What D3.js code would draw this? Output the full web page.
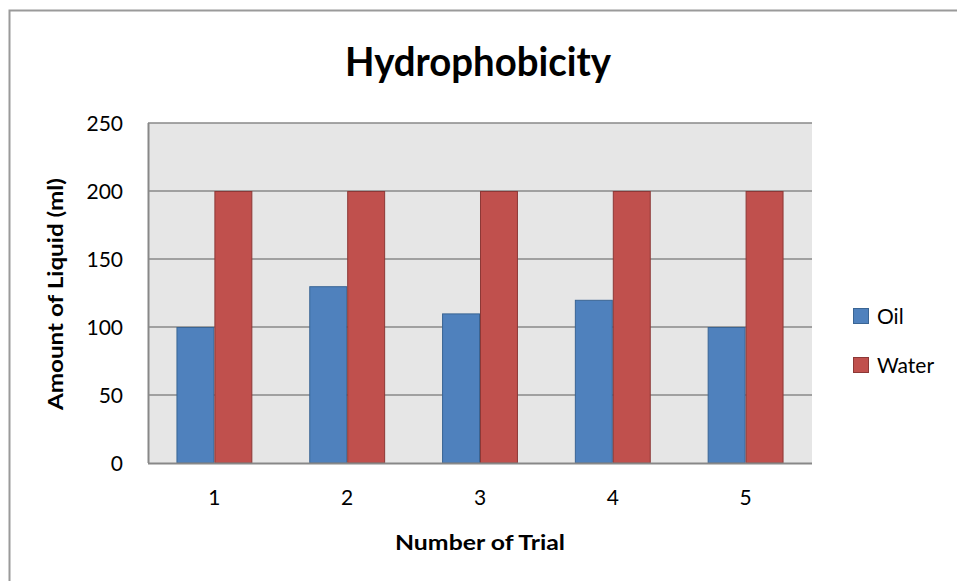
<!DOCTYPE html>
<html><head><meta charset="utf-8">
<script src="https://cdn.jsdelivr.net/npm/d3@7"></script>
<style>body{margin:0;background:#fff}svg{display:block}</style>
</head><body>
<svg id="c" width="957" height="581"></svg>
<script>
const categories = ["1","2","3","4","5"];
const oilValues = [100,130,110,120,100];
const waterValues = [200,200,200,200,200];
const seriesNames = ["Oil","Water"];
const yTicks = [0,50,100,150,200,250];

const colors = {Oil:"#4f81bd", Water:"#c0504d"};
const strokes = {Oil:"#3a6594", Water:"#8c3836"};
const font = "Lato, 'Open Sans', sans-serif";

const svg = d3.select("#c");
svg.append("path").attr("d","M9.5,581 V10.5 H957").attr("fill","none").attr("stroke","#9a9a9a").attr("stroke-width",2);

const m = {l:148, r:812, t:123, b:463};
const x0 = d3.scaleBand().domain(categories).range([m.l,m.r]).paddingInner(0).paddingOuter(0);
const y = d3.scaleLinear().domain([0,250]).range([m.b,m.t]);
const bw = x0.bandwidth()/3.5;
const x1 = d3.scaleBand().domain(seriesNames).range([0,bw*2]);

svg.append("rect").attr("x",m.l).attr("y",m.t).attr("width",m.r-m.l).attr("height",m.b-m.t).attr("fill","#e6e6e6");

svg.append("g").selectAll("line").data(yTicks.filter(d=>d>0)).join("line")
  .attr("x1",m.l).attr("x2",m.r).attr("y1",d=>y(d)).attr("y2",d=>y(d))
  .attr("stroke","#888").attr("stroke-width",1.5);

const data = categories.map((c,i)=>({c, vals:[{k:"Oil",v:oilValues[i]},{k:"Water",v:waterValues[i]}]}));
const g = svg.append("g");
g.selectAll("g").data(data).join("g")
  .attr("transform",d=>`translate(${x0(d.c)+x0.bandwidth()/2-bw},0)`)
  .selectAll("rect").data(d=>d.vals).join("rect")
  .attr("x",d=>x1(d.k)+0.5).attr("width",x1.bandwidth()-1)
  .attr("y",d=>y(d.v)+0.5).attr("height",d=>y(0)-y(d.v)-0.5)
  .attr("fill",d=>colors[d.k]).attr("stroke",d=>strokes[d.k]).attr("stroke-width",1);

const ya = d3.axisLeft(y).tickValues(yTicks).tickSize(0).tickPadding(0);
const yg = svg.append("g").attr("transform",`translate(${m.l},0)`).call(ya);
yg.select(".domain").attr("stroke","#888").attr("stroke-width",2).attr("d",`M0.5,${m.t}V${m.b}`);
yg.selectAll("text").attr("x",-25).attr("dy","0.36em").attr("text-anchor","end").attr("font-family",font).attr("font-size",21).attr("fill","#000");

const xa = d3.axisBottom(x0).tickSize(0).tickPadding(0);
const xg = svg.append("g").attr("transform",`translate(0,${m.b})`).call(xa);
xg.select(".domain").attr("stroke","#888").attr("stroke-width",2).attr("d",`M${m.l},0.5H${m.r}`);
xg.selectAll("text").attr("y",42).attr("dy",0).attr("font-family",font).attr("font-size",21).attr("fill","#000");

svg.append("text").attr("x",478).attr("y",76).attr("text-anchor","middle")
  .attr("font-family",font).attr("font-weight","bold").attr("font-size",40)
  .attr("textLength",266).attr("lengthAdjust","spacingAndGlyphs").text("Hydrophobicity");
svg.append("text").attr("x",480).attr("y",550).attr("text-anchor","middle")
  .attr("font-family",font).attr("font-weight","bold").attr("font-size",20)
  .attr("textLength",170).attr("lengthAdjust","spacingAndGlyphs").text("Number of Trial");
svg.append("text").attr("transform","translate(63,294) rotate(-90)").attr("text-anchor","middle")
  .attr("font-family",font).attr("font-weight","bold").attr("font-size",20)
  .attr("textLength",232).attr("lengthAdjust","spacingAndGlyphs").text("Amount of Liquid (ml)");

const lg = svg.append("g").selectAll("g").data(seriesNames).join("g")
  .attr("transform",(d,i)=>`translate(853,${i*49+308})`);
lg.append("rect").attr("x",0.5).attr("y",0.5).attr("width",15).attr("height",15)
  .attr("fill",d=>colors[d]).attr("stroke",d=>strokes[d]);
lg.append("text").attr("x",24).attr("y",15.5).attr("font-family",font).attr("font-size",21).text(d=>d);
</script>
</body></html>
